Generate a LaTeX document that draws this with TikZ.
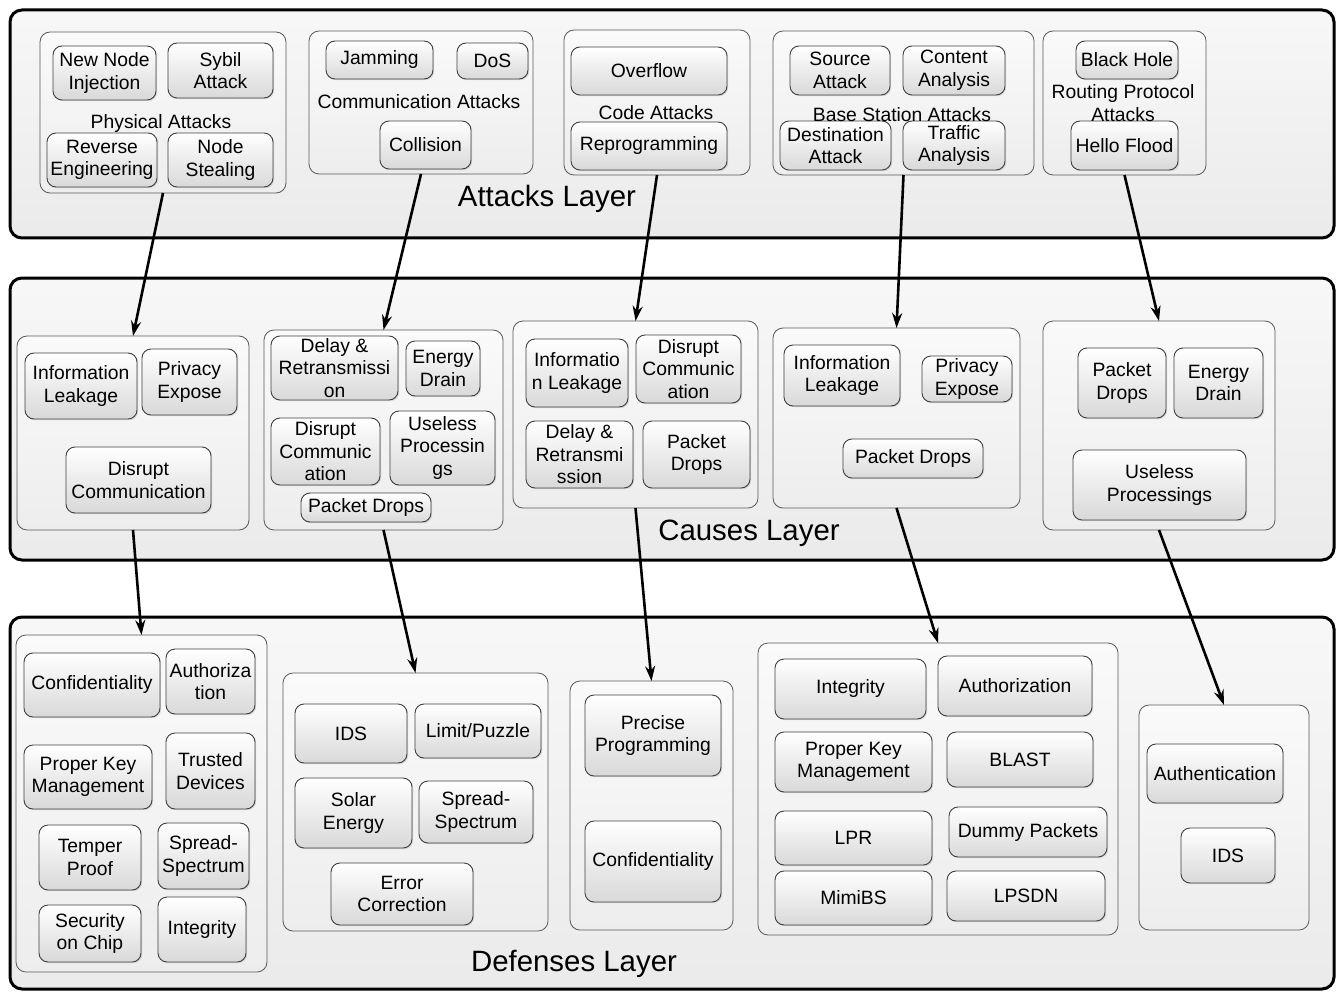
\documentclass[tikz,border=0pt]{standalone}
\usepackage{fontspec}
\setmainfont{Liberation Sans}
\usetikzlibrary{arrows.meta,shadows}
\newcommand\ibx[6]{\node[ibox,minimum width={#4-#2},minimum height={#5-#3}] (#1) at ({(#2+#4)/2},{(#3+#5)/2}) {#6};}
\newcommand\gbx[5]{\node[gbox,minimum width={#4-#2},minimum height={#5-#3}] (#1) at ({(#2+#4)/2},{(#3+#5)/2}) {};}
\newcommand\lbx[5]{\node[layerbox,minimum width={#4-#2},minimum height={#5-#3}] (#1) at ({(#2+#4)/2},{(#3+#5)/2}) {};}
\begin{document}
\begin{tikzpicture}[x=1pt,y=-1pt,
  txt/.style={font=\fontsize{19.3}{22.5}\selectfont, align=center, inner sep=0pt},
  ibox/.style={txt, rectangle, rounded corners=9pt, draw=black!75, line width=0.9pt,
    top color=white, bottom color=black!15,
    drop shadow={shadow xshift=1.2pt, shadow yshift=-1.2pt, opacity=0.25}},
  gbox/.style={rectangle, rounded corners=10pt, draw=black!65, line width=0.8pt,
    top color=black!2, bottom color=black!7, outer sep=0pt},
  layerbox/.style={rectangle, rounded corners=12pt, draw=black, line width=3pt,
    top color=black!3, bottom color=black!8, outer sep=0pt},
  glabel/.style={txt},
  llabel/.style={font=\fontsize{29.4}{34}\selectfont, inner sep=0pt},
  arr/.style={line width=2.6pt, -{Stealth[length=15pt,width=10pt]}}
]
\useasboundingbox (0,0) rectangle (1337,992);
% layers
\lbx{attL}{10}{10}{1334}{238}
\lbx{cauL}{10}{278}{1334}{560}
\lbx{defL}{10}{617}{1334}{989}
\node[llabel] (attLt) at (547,199) {Attacks Layer};
\node[llabel] (cauLt) at (749,533) {Causes Layer};
\node[llabel] (defLt) at (574,964) {Defenses Layer};
% attack groups
\gbx{phys}{40}{32}{286}{193}
\gbx{comm}{309}{31}{533}{174}
\gbx{code}{564}{30}{750}{175}
\gbx{bs}{773}{31}{1034}{175}
\gbx{rt}{1043}{31}{1206}{175}
% cause groups
\gbx{g1}{17}{336}{249}{530}
\gbx{g2}{264}{330}{503}{530}
\gbx{g3}{513}{321}{758}{508}
\gbx{g4}{773}{328}{1020}{508}
\gbx{g5}{1043}{321}{1275}{530}
% defense groups
\gbx{d1}{16}{635}{267}{972}
\gbx{d2}{283}{673}{548}{931}
\gbx{d3}{570}{681}{733}{930}
\gbx{d4}{758}{643}{1118}{935}
\gbx{d5}{1139}{705}{1309}{930}
% attacks
\ibx{nni}{53}{46}{156}{100}{New Node\\Injection}
\ibx{syb}{168}{43}{273}{98}{Sybil\\Attack}
\ibx{rev}{47}{133}{157}{187}{Reverse\\Engineering}
\ibx{nst}{168}{133}{273}{187}{Node\\Stealing}
\ibx{jam}{326}{41}{433}{79}{Jamming}
\ibx{dos}{457}{43}{528}{79}{DoS}
\ibx{col}{380}{121}{471}{169}{Collision}
\ibx{ovf}{571}{47}{727}{95}{Overflow}
\ibx{rep}{571}{122}{727}{170}{Reprogramming}
\ibx{src}{790}{46}{890}{95}{Source\\Attack}
\ibx{con}{903}{46}{1005}{95}{Content\\Analysis}
\ibx{dst}{780}{121}{891}{170}{Destination\\Attack}
\ibx{trf}{903}{121}{1005}{170}{Traffic\\Analysis}
\ibx{bh}{1076}{41}{1178}{79}{Black Hole}
\ibx{hf}{1071}{121}{1178}{170}{Hello Flood}
\node[glabel] (lphys) at (161,124) {Physical Attacks};
\node[glabel] (lcomm) at (419,102) {Communication Attacks};
\node[glabel] (lcode) at (656,113) {Code Attacks};
\node[glabel] (lbs) at (902,115) {Base Station Attacks};
\node[glabel] (lrt) at (1123,103) {Routing Protocol\\Attacks};
% causes
\ibx{c11}{25}{353}{137}{419}{Information\\Leakage}
\ibx{c12}{142}{349}{237}{415}{Privacy\\Expose}
\ibx{c13}{66}{447}{211}{513}{Disrupt\\Communication}
\ibx{c21}{271}{336}{398}{400}{Delay \&\\Retransmissi\\on}
\ibx{c22}{406}{341}{480}{396}{Energy\\Drain}
\ibx{c23}{271}{418}{380}{485}{Disrupt\\Communic\\ation}
\ibx{c24}{390}{411}{495}{485}{Useless\\Processin\\gs}
\ibx{c25}{301}{493}{431}{522}{Packet Drops}
\ibx{c31}{526}{339}{628}{407}{Informatio\\n Leakage}
\ibx{c32}{636}{335}{741}{403}{Disrupt\\Communic\\ation}
\ibx{c33}{526}{421}{633}{488}{Delay \&\\Retransmi\\ssion}
\ibx{c34}{643}{421}{750}{488}{Packet\\Drops}
\ibx{c41}{784}{345}{900}{406}{Information\\Leakage}
\ibx{c42}{922}{356}{1012}{402}{Privacy\\Expose}
\ibx{c43}{843}{439}{983}{478}{Packet Drops}
\ibx{c51}{1078}{348}{1166}{418}{Packet\\Drops}
\ibx{c52}{1174}{348}{1263}{418}{Energy\\Drain}
\ibx{c53}{1073}{450}{1246}{520}{Useless\\Processings}
% defenses
\ibx{e11}{24}{653}{160}{717}{Confidentiality}
\ibx{e12}{166}{649}{255}{714}{Authoriza\\tion}
\ibx{e13}{24}{745}{152}{809}{Proper Key\\Management}
\ibx{e14}{166}{733}{255}{809}{Trusted\\Devices}
\ibx{e15}{39}{825}{141}{890}{Temper\\Proof}
\ibx{e16}{158}{823}{249}{889}{Spread-\\Spectrum}
\ibx{e17}{39}{905}{141}{962}{Security\\on Chip}
\ibx{e18}{158}{897}{246}{962}{Integrity}
\ibx{e21}{295}{704}{407}{763}{IDS}
\ibx{e22}{415}{704}{541}{758}{Limit/Puzzle}
\ibx{e23}{295}{778}{412}{848}{Solar\\Energy}
\ibx{e24}{419}{781}{533}{843}{Spread-\\Spectrum}
\ibx{e25}{331}{863}{473}{925}{Error\\Correction}
\ibx{e31}{585}{695}{721}{776}{Precise\\Programming}
\ibx{e32}{585}{821}{721}{902}{Confidentiality}
\ibx{e41}{775}{659}{926}{719}{Integrity}
\ibx{e42}{938}{656}{1092}{716}{Authorization}
\ibx{e43}{775}{732}{932}{792}{Proper Key\\Management}
\ibx{e44}{947}{732}{1093}{787}{BLAST}
\ibx{e45}{775}{811}{932}{865}{LPR}
\ibx{e46}{949}{807}{1107}{857}{Dummy Packets}
\ibx{e47}{775}{871}{932}{925}{MimiBS}
\ibx{e48}{947}{871}{1105}{921}{LPSDN}
\ibx{e51}{1147}{744}{1283}{803}{Authentication}
\ibx{e52}{1181}{828}{1275}{883}{IDS}
% arrows
\draw[arr] (phys.south) -- (g1.north);
\draw[arr] (comm.south) -- (g2.north);
\draw[arr] (code.south) -- (g3.north);
\draw[arr] (bs.south) -- (g4.north);
\draw[arr] (rt.south) -- (g5.north);
\draw[arr] (g1.south) -- (d1.north);
\draw[arr] (g2.south) -- (d2.north);
\draw[arr] (g3.south) -- (d3.north);
\draw[arr] (g4.south) -- (d4.north);
\draw[arr] (g5.south) -- (d5.north);
\end{tikzpicture}
\end{document}
